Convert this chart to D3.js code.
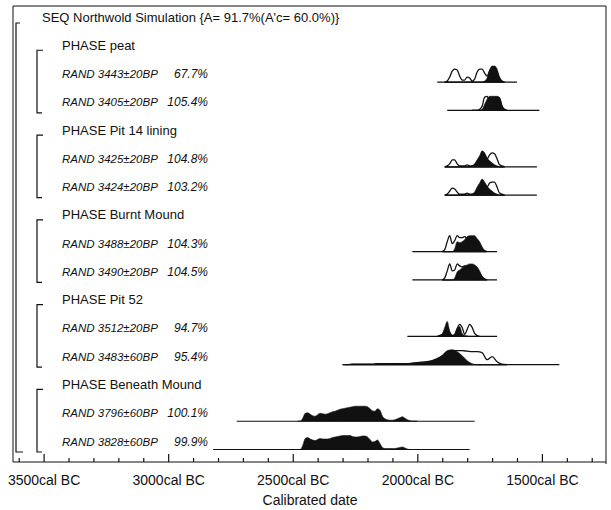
<!DOCTYPE html>
<html>
<head>
<meta charset="utf-8">
<script src="https://cdn.jsdelivr.net/npm/d3@7"></script>
<style>
  body { margin: 0; background: #fff; }
  svg text { font-family: "Liberation Sans", Arial, Helvetica, sans-serif; fill: #111; }
</style>
</head>
<body>
<svg id="chart" width="611" height="510"></svg>
<script>
// ---- model structure -------------------------------------------------------
const sequenceTitle = "SEQ Northwold Simulation {A= 91.7%(A'c= 60.0%)}";
const phaseNames = ["peat", "Pit 14 lining", "Burnt Mound", "Pit 52", "Beneath Mound"];

// one entry per simulated radiocarbon date
const dateNames = [
  "RAND 3443±20BP", "RAND 3405±20BP",
  "RAND 3425±20BP", "RAND 3424±20BP",
  "RAND 3488±20BP", "RAND 3490±20BP",
  "RAND 3512±20BP", "RAND 3483±60BP",
  "RAND 3796±60BP", "RAND 3828±60BP"
];
const datePhase = [0, 0, 1, 1, 2, 2, 3, 3, 4, 4];
const agreement = [67.7, 105.4, 104.8, 103.2, 104.3, 104.5, 94.7, 95.4, 100.1, 99.9];

// extent of the plotted range for each date (cal BC)
const rangeFrom = [1920, 1880, 1890, 1890, 2020, 2020, 2040, 2290, 2725, 2820];
const rangeTo   = [1600, 1510, 1520, 1520, 1680, 1680, 1680, 1430, 1770, 1790];

// sampling of the distributions: first year (cal BC) and step in years
const sampleFrom = [1890, 1780, 1890, 1890, 1900, 1900, 1920, 2300, 2480, 2480];
const sampleStep = [10, 10, 10, 10, 10, 10, 10, 20, 10, 10];

// unmodelled calibrated likelihoods (relative probability), drawn as outlines
const priorValues = [
  [0,1,5,11,13,12,6,2,2,5,4,1,3,10,13,13,9,6,11,14,14,10,4,1,0],
  [0,0,0,1,4,13,14,10,11,13,13,12,4,1,0],
  [0,1,3,7,7,3,1,1,1,2,1,1,2,5,8,11,10,8,12,14,13,8,2,1,0],
  [0,1,4,7,6,3,1,1,1,2,1,1,2,5,8,11,10,8,12,13,13,8,2,1,0],
  [0,2,10,16,8,11,16,14,14,15,13,12,13,11,9,6,3,1,0],
  [0,2,9,16,9,10,16,14,13,14,13,12,12,11,9,6,3,1,0],
  [0,1,2,6,10,4,1,2,8,12,9,2,7,12,9,3,1,0],
  [0,0,0.5,0.5,0.5,0.5,0.5,1,1,1,1,1,1,1,1.5,2,2.5,3,4,6,9,13,14,14,14,13.5,13,13,12,5,8,3,0.5,0],
  null,
  null
];

// modelled (posterior) distributions, drawn filled
const posteriorValues = [
  [0,0,0,0,0,0,0,0,0,0,0,0,0,0,0,0,1,4,12,16,16,13,5,1,0],
  [0,0,0,0,1,6,11,14,14,14,14,13,5,1,0],
  [0,0,0,0,0,0,0,0,0,0,0,1,3,7,11,16,14,9,6,4,2,1,0,0,0],
  [0,0,0,0,0,0,0,0,0,0,0,1,3,8,12,16,13,9,6,4,2,1,0,0,0],
  [0,0,0,0,0,3,10,9,10,12,15,16,16,16,13,10,5,1,0],
  [0,0,0,0,0,2,8,10,12,14,15,16,16,15,13,9,4,1,0],
  [0,1,2,9,15,5,1,2,8,10,3,1,0.5,0,0,0,0,0],
  [0,0,0.5,0.5,0.5,0.5,0.5,1,1,1,1,1,1,1,1.5,2,2.5,3,4,6,9,14,15,13,9,4,1,0,0,0,0,0,0,0],
  [0,0,3,8,8.5,7,5.5,5,6.5,8,7.5,7,7.5,8.5,9.5,10,11,12,12.5,13,13.5,14,14.5,15,15,15,15,15,14.5,12.5,10.5,10,12.5,11,5,2.5,1.5,1,1,1.5,2.5,3.5,4.5,3,1.5,0.5,0,0,0],
  [0,0,4,11,12,10.5,9.5,9,10,11,10.5,10.5,10.5,11,12,12.5,13,13.5,14,14,14,14,13,12.5,12.5,13,13.5,13.5,12.5,10,7.5,8,9.5,6,2,1,1,1,1,1,1.5,2,2.5,1.5,0.5,0,0,0,0]
];

// axis
const majorTicks = [3500, 3000, 2500, 2000, 1500];
const minorTicks = [3600, 3400, 3300, 3200, 3100, 2900, 2800, 2700, 2600, 2400, 2300,
                    2200, 2100, 1900, 1800, 1700, 1600, 1400, 1300];
const axisTitle = "Calibrated date";

// ---- layout ----------------------------------------------------------------
const svg = d3.select("#chart");
const frame = { left: 13, right: 606, top: 6, bottom: 462 };
const x = d3.scaleLinear().domain([3500, 1500]).range([43.6, 541.9]);
const rowY = d3.scaleLinear().domain([0, 15]).range([17, 441]);
const h = d3.scaleLinear().domain([0, 16]).range([0, 16]);
const ink = "#111";

// build the row list: sequence, then each phase followed by its dates
const rows = [{ kind: "seq", label: sequenceTitle }];
phaseNames.forEach((p, pi) => {
  rows.push({ kind: "phase", label: "PHASE " + p, phase: pi });
  datePhase.forEach((dp, di) => { if (dp === pi) rows.push({ kind: "date", index: di, phase: pi }); });
});
rows.forEach((r, i) => r.y = rowY(i));

// frame
const g = svg.append("g");
g.append("path")
  .attr("d", `M${frame.left},${frame.bottom}V${frame.top}H${frame.right}V${frame.bottom + 2}`)
  .attr("fill", "none").attr("stroke", ink).attr("stroke-width", 1);

// sequence bracket
const lastY = rows[rows.length - 1].y;
g.append("path")
  .attr("d", `M20,${rows[0].y + 6}H16V${lastY + 11}H23`)
  .attr("fill", "none").attr("stroke", ink).attr("stroke-width", 1.2);

// phase brackets
phaseNames.forEach((p, pi) => {
  const pr = rows.filter(r => r.phase === pi);
  const top = pr[0].y + 5, bot = pr[pr.length - 1].y + 11;
  g.append("path")
    .attr("d", `M43,${top}H37V${bot}H42`)
    .attr("fill", "none").attr("stroke", ink).attr("stroke-width", 1.2);
});

// labels
rows.forEach(r => {
  if (r.kind === "seq") {
    g.append("text").attr("x", 42).attr("y", r.y + 4.5).attr("font-size", 13).text(r.label);
  } else if (r.kind === "phase") {
    g.append("text").attr("x", 62).attr("y", r.y + 4.5).attr("font-size", 13).text(r.label);
  } else {
    g.append("text").attr("x", 62).attr("y", r.y + 4.5).attr("font-size", 11.5)
      .attr("font-style", "italic").text(dateNames[r.index]);
    g.append("text").attr("x", 208).attr("y", r.y + 4.5).attr("font-size", 12)
      .attr("font-style", "italic").attr("text-anchor", "end")
      .text(agreement[r.index].toFixed(1) + "%");
  }
});

// distributions
const toPoints = (vals, di) => vals.map((v, k) => ({ year: sampleFrom[di] - k * sampleStep[di], v }));
rows.filter(r => r.kind === "date").forEach(r => {
  const di = r.index, base = r.y + 8.5;
  const area = d3.area().curve(d3.curveMonotoneX)
    .x(d => x(d.year)).y0(base).y1(d => base - h(d.v));
  g.append("line")
    .attr("x1", x(rangeFrom[di])).attr("x2", x(rangeTo[di]))
    .attr("y1", base).attr("y2", base)
    .attr("stroke", ink).attr("stroke-width", 1.2);
  if (priorValues[di]) {
    g.append("path").attr("d", area(toPoints(priorValues[di], di)))
      .attr("fill", "#fff").attr("stroke", ink).attr("stroke-width", 1.3);
  }
  g.append("path").attr("d", area(toPoints(posteriorValues[di], di)))
    .attr("fill", ink).attr("stroke", ink).attr("stroke-width", 0.6);
});

// axis along the bottom of the frame
const axisG = svg.append("g").attr("transform", `translate(0,${frame.bottom})`);
const major = d3.axisBottom(x).tickValues(majorTicks)
  .tickSizeInner(-8).tickSizeOuter(0).tickPadding(13)
  .tickFormat(d => d + "cal BC");
const minor = d3.axisBottom(x).tickValues(minorTicks)
  .tickSizeInner(-4).tickSizeOuter(0).tickFormat("");
axisG.append("g").call(minor).call(a => a.select(".domain").remove());
axisG.append("g").call(major).call(a => a.select(".domain").remove());
axisG.selectAll("line").attr("stroke", ink).attr("stroke-width", 1.2);
axisG.selectAll("text").attr("font-size", 14).attr("fill", ink)
  .attr("font-family", "'Liberation Sans', Arial, sans-serif");
svg.append("line").attr("x1", frame.left).attr("x2", frame.right)
  .attr("y1", frame.bottom).attr("y2", frame.bottom)
  .attr("stroke", ink).attr("stroke-width", 1.2);

svg.append("text").attr("x", 310).attr("y", 505).attr("text-anchor", "middle")
  .attr("font-size", 14).text(axisTitle);
</script>
</body>
</html>
